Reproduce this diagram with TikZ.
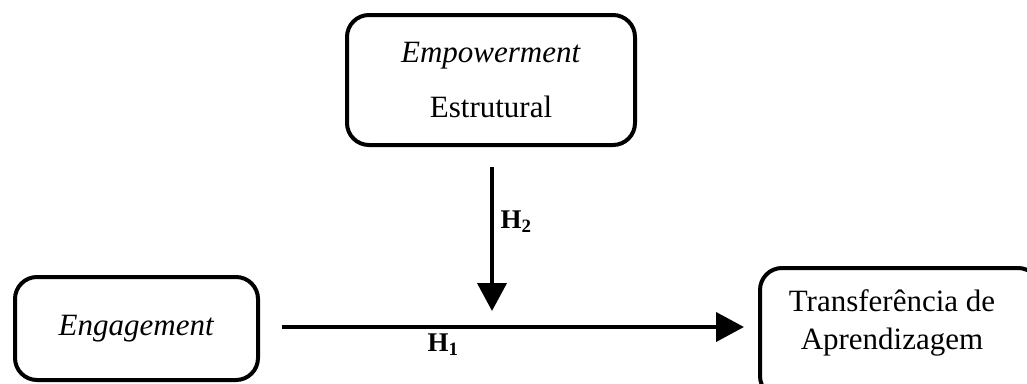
\documentclass[tikz,border=0pt]{standalone}
\usepackage{fontspec}
\setmainfont{Liberation Serif}
\usetikzlibrary{arrows.meta}
\begin{document}
\begin{tikzpicture}[x=1pt,y=-1pt,
  box/.style={draw=black,line width=4pt,rounded corners=22pt,align=center,inner sep=0pt,
    font=\fontsize{31}{38}\selectfont},
  arr/.style={line width=4pt,-{Triangle[length=28pt,width=29pt]}},
  hlab/.style={font=\fontsize{27}{30}\selectfont\bfseries}]
\useasboundingbox (0,0) rectangle (1027,383);
\clip (0,0) rectangle (1027,383);
\node[box,minimum width=288pt,minimum height=130pt] (emp) at (491,80)
  {\textit{Empowerment}\\[17pt]Estrutural};
\node[box,minimum width=243pt,minimum height=103pt] (eng) at (136.5,328.5)
  {\textit{Engagement}};
\node[box,minimum width=280pt,minimum height=130pt,text width=270pt] (tra) at (900,333)
  {};
\node[font=\fontsize{31}{38}\selectfont,align=center] (tratext) at (892,323)
  {Transferência de\\Aprendizagem};
\coordinate (hs) at (282,327);
\coordinate (he) at (744,327);
\coordinate (vs) at (492,167);
\coordinate (ve) at (492,311);
\draw[arr] (hs) -- (he);
\draw[arr] (vs) -- (ve);
\node[hlab] (h2) at (516,222) {H\textsubscript{2}};
\node[hlab] (h1) at (443,345) {H\textsubscript{1}};
\end{tikzpicture}
\end{document}
